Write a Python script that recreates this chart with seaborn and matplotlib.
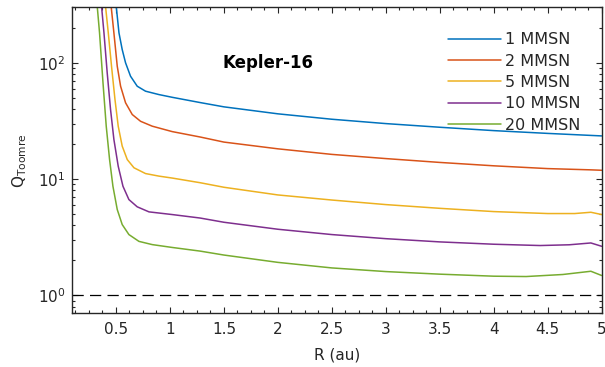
import numpy as np
import pandas as pd
import matplotlib
matplotlib.use("Agg")
import matplotlib.pyplot as plt
from matplotlib.ticker import MultipleLocator, LogLocator, FuncFormatter, NullFormatter
import seaborn as sns

# Toomre Q versus radius for several disc masses (Kepler-16)
labels = ["1 MMSN", "2 MMSN", "5 MMSN", "10 MMSN", "20 MMSN"]
colors = ["#0072BD", "#D95319", "#EDB120", "#7E2F8E", "#77AC30"]

r_1 = [0.503, 0.528, 0.558, 0.589, 0.635, 0.697, 0.774, 0.898, 1.021, 1.28,
       1.5, 2.0, 2.5, 3.0, 3.5, 4.0, 4.5, 5.0]
q_1 = [303, 181, 130, 100, 76.7, 62.9, 57.0, 53.3, 50.5, 45.5,
       41.8, 36.4, 32.7, 30.0, 27.9, 26.1, 24.7, 23.5]

r_2 = [0.456, 0.481, 0.512, 0.543, 0.589, 0.651, 0.728, 0.836, 1.021, 1.28,
       1.5, 2.0, 2.5, 3.0, 3.5, 4.0, 4.5, 4.9, 5.0]
q_2 = [303, 181, 93.5, 62.9, 45.3, 35.9, 31.4, 28.5, 25.6, 23.0,
       20.8, 18.2, 16.3, 15.0, 13.9, 13.0, 12.3, 12.0, 11.9]

r_5 = [0.404, 0.429, 0.459, 0.491, 0.521, 0.558, 0.605, 0.667, 0.774, 0.898, 1.021, 1.28,
       1.5, 2.0, 2.5, 3.0, 3.5, 4.0, 4.5, 4.75, 4.9, 5.0]
q_5 = [303, 181, 93.5, 48.3, 28.5, 19.2, 14.7, 12.5, 11.15, 10.6, 10.2, 9.3,
       8.5, 7.3, 6.6, 6.03, 5.6, 5.25, 5.05, 5.05, 5.18, 4.95]

r_10 = [0.367, 0.389, 0.419, 0.450, 0.481, 0.521, 0.565, 0.620, 0.697, 0.806, 1.021, 1.28,
        1.5, 2.0, 2.5, 3.0, 3.5, 4.0, 4.43, 4.7, 4.9, 5.0]
q_10 = [303, 181, 82, 39.6, 21.9, 12.9, 8.67, 6.66, 5.77, 5.22, 4.95, 4.62,
        4.25, 3.70, 3.33, 3.07, 2.88, 2.75, 2.68, 2.72, 2.82, 2.64]

r_20 = [0.327, 0.348, 0.380, 0.410, 0.441, 0.472, 0.512, 0.558, 0.620, 0.713, 0.836, 1.021, 1.28,
        1.5, 2.0, 2.5, 3.0, 3.5, 4.0, 4.3, 4.64, 4.9, 5.0]
q_20 = [303, 181, 67.3, 28.5, 14.7, 8.67, 5.47, 4.06, 3.33, 2.91, 2.73, 2.58, 2.40,
        2.22, 1.92, 1.72, 1.60, 1.52, 1.46, 1.45, 1.51, 1.61, 1.48]

radii = [r_1, r_2, r_5, r_10, r_20]
qvals = [q_1, q_2, q_5, q_10, q_20]

frames = []
for lab, r, q in zip(labels, radii, qvals):
    frames.append(pd.DataFrame({"R": r, "Q": q, "disc": lab}))
df = pd.concat(frames, ignore_index=True)

sns.set_style("ticks")
plt.rcParams["font.family"] = ["DejaVu Sans"]
ink = "#262626"

fig = plt.figure(figsize=(6.05, 3.67), dpi=100)
ax = fig.add_axes([0.1185, 0.1463, 0.9945 - 0.1185, 0.980 - 0.1463])

sns.lineplot(data=df, x="R", y="Q", hue="disc", hue_order=labels,
             palette=colors, sort=False, estimator=None, units="disc",
             linewidth=1.1, ax=ax)

ax.axhline(1.0, color="black", lw=0.9, dashes=(9, 5))

ax.set_yscale("log")
ax.set_xlim(0.09, 5.0)
ax.set_ylim(0.7, 300)

ax.xaxis.set_major_locator(MultipleLocator(0.5))
ax.xaxis.set_minor_locator(MultipleLocator(0.125))
ax.xaxis.set_major_formatter(FuncFormatter(lambda v, p: f"{v:g}"))
ax.yaxis.set_major_locator(LogLocator(base=10, numticks=10))
ax.yaxis.set_minor_locator(LogLocator(base=10, subs=np.arange(2, 10), numticks=20))
ax.yaxis.set_minor_formatter(NullFormatter())

ax.tick_params(which="both", direction="in", top=True, right=True,
               colors=ink, labelcolor=ink, labelsize=11, width=0.8)
ax.tick_params(which="major", length=4.5)
ax.tick_params(axis="x", which="major", pad=6.5)
ax.tick_params(axis="y", which="major", pad=4.5)
ax.tick_params(which="minor", length=2.5)
for s in ax.spines.values():
    s.set_color(ink)
    s.set_linewidth(1.0)

ax.set_xlabel("R (au)", fontsize=11, color=ink, labelpad=7)
ax.set_ylabel(r"$\mathregular{Q_{Toomre}}$", fontsize=11, color=ink, labelpad=6)

ax.text(1.91, 100, "Kepler-16", fontsize=12, fontweight="bold",
        ha="center", va="center", color="black")

leg = ax.legend(loc="upper left", bbox_to_anchor=(0.71, 0.919), frameon=False,
                fontsize=11.5, handlelength=3.3, handletextpad=0.3,
                labelspacing=0.4, borderaxespad=0, borderpad=0)
for t in leg.get_texts():
    t.set_color(ink)

fig.savefig("out.png", dpi=100)
